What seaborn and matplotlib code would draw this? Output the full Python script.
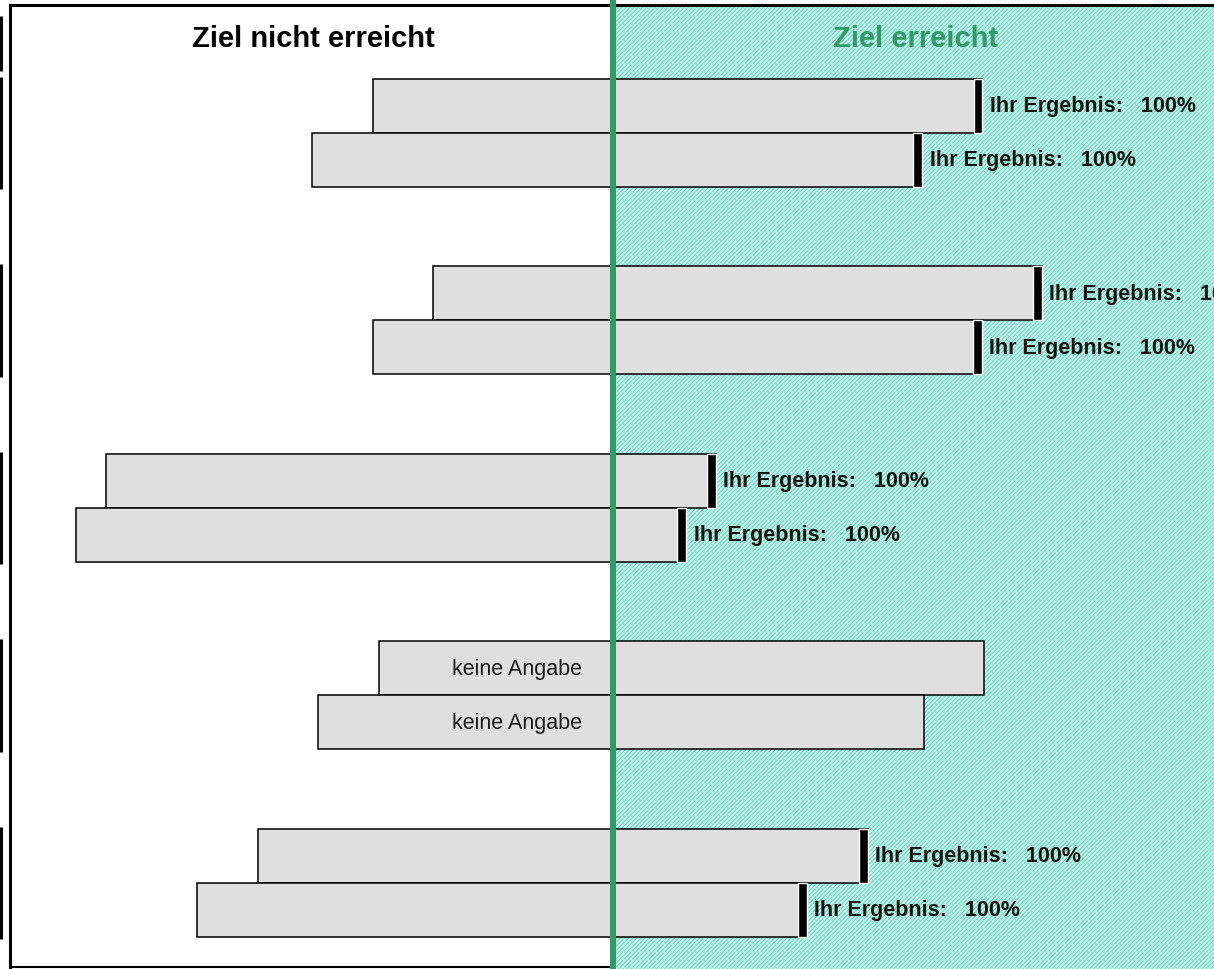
import pandas as pd
import seaborn as sns
import matplotlib.pyplot as plt
import matplotlib.transforms as mtransforms

# data: each bar spans from a lower to an upper value (centre line = 0)
groups = ["Bereich 1", "Bereich 2", "Bereich 3", "Bereich 4", "Bereich 5"]
series = ["Vorjahr", "Aktuell"]
lower_a = [-39.4, -29.6, -83.2, -38.4, -58.3]
upper_a = [60.5, 70.2, 16.8, 60.7, 41.7]
lower_b = [-49.4, -39.4, -88.1, -48.4, -68.3]
upper_b = [50.6, 60.4, 11.9, 50.9, 31.7]
result_a = [100, 100, 100, None, 100]
result_b = [100, 100, 100, None, 100]

header_left = "Ziel nicht erreicht"
header_right = "Ziel erreicht"
result_label = "Ihr Ergebnis:   {}%"
no_data_label = "keine Angabe"

GREEN = "#339966"
GRAY = "#dfdfdf"

df = pd.DataFrame({
    "group": groups * 2,
    "series": [series[0]] * 5 + [series[1]] * 5,
    "lower": lower_a + lower_b,
    "upper": upper_a + upper_b,
    "result": result_a + result_b,
})

sns.set_theme(style="white")
plt.rcParams["font.family"] = ["Liberation Sans", "DejaVu Sans"]
plt.rcParams["hatch.linewidth"] = 0.7

fig = plt.figure(figsize=(12.14, 9.70), dpi=100)
ax = fig.add_axes([10 / 1214, 2 / 970, 1213.3 / 1214, 962.5 / 970])

bar_w = 0.576
pal = {s: GRAY for s in series}
for col in ["upper", "lower"]:
    sns.barplot(data=df, x=col, y="group", hue="series", order=groups,
                hue_order=series, palette=pal, width=bar_w, dodge=True,
                edgecolor="black", linewidth=1.1, saturation=1,
                legend=False, ax=ax, zorder=2)

xmin, xmax = -98.9, 100
ytop, ybot = -0.685, 4.448
ax.set_xlim(xmin, xmax)
ax.set_ylim(ybot, ytop)

# hatched "Ziel erreicht" area
ax.axvspan(0, xmax, ymin=-0.003, ymax=1, facecolor="#c9f3ea",
           edgecolor="#5fd8c0", hatch="////////", linewidth=0, zorder=0.5,
           clip_on=False)

# result markers and labels
half = bar_w / 4
for _, row in df.iterrows():
    i = groups.index(row["group"])
    y = i - half if row["series"] == series[0] else i + half
    if pd.notna(row["result"]):
        ax.barh(y, 1.45, left=row["upper"] - 1.45, height=bar_w / 2,
                color="black", zorder=3)
        ax.text(row["upper"] + 1.25, y, result_label.format(int(row["result"])),
                ha="left", va="center", fontsize=15.5, fontweight="bold",
                color="#111111", zorder=6)
    else:
        ax.text(-5.1, y, no_data_label, ha="right", va="center",
                fontsize=15.5, color="#1a1a1a", zorder=6)

# centre line
ax.axvline(0, ymin=-0.01, ymax=1.01, color=GREEN, linewidth=4.3,
           zorder=5, clip_on=False)

# headers
ax.text(-49.2, -0.464, header_left, ha="center", va="baseline",
        fontsize=21, fontweight="bold", color="black")
ax.text(49.5, -0.464, header_right, ha="center", va="baseline",
        fontsize=21, fontweight="bold", color=GREEN)

# frame
for s in ["right", "bottom"]:
    ax.spines[s].set_visible(False)
for s in ["top", "left"]:
    ax.spines[s].set_color("black")
    ax.spines[s].set_linewidth(2.2)
ax.plot([xmin, 0], [ybot, ybot], color="black", linewidth=1.5,
        clip_on=False, zorder=4)

ax.set_xticks([])
ax.set_yticks([])
ax.set_xlabel("")
ax.set_ylabel("")

# group brackets at the left edge of the page
trans = mtransforms.blended_transform_factory(fig.transFigure, ax.transData)
ax.vlines(1.5 / 1214, -0.624, -0.331, color="black", linewidth=2.2,
          transform=trans, clip_on=False)
for i in range(len(groups)):
    ax.vlines(1.5 / 1214, i - 0.3, i + 0.3, color="black", linewidth=2.2,
              transform=trans, clip_on=False)

fig.savefig("out.png", dpi=100)
